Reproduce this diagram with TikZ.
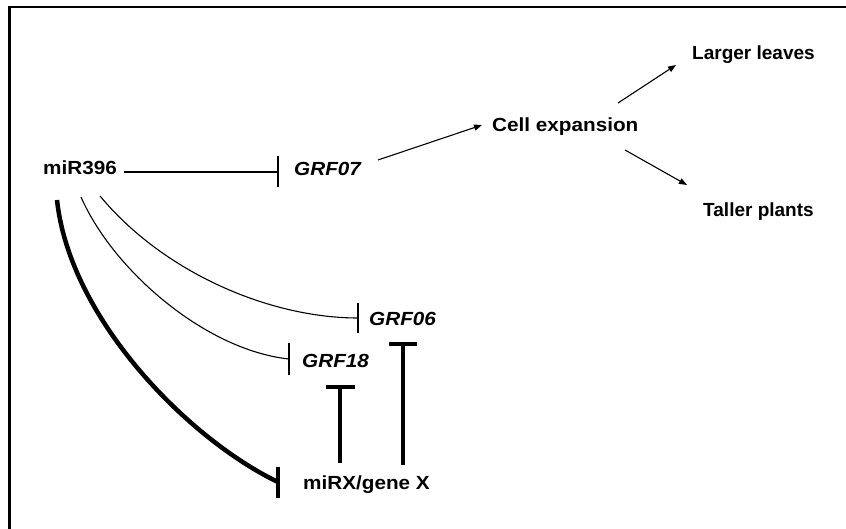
\documentclass[tikz,border=0pt]{standalone}
\usepackage{fontspec}
\setmainfont{Liberation Sans}[FakeStretch=1.09]
\newfontfamily\plainsans{Liberation Sans}
\usetikzlibrary{arrows.meta,calc}
\begin{document}
\begin{tikzpicture}[x=1pt,y=-1pt,
  lbl/.style={anchor=base west,inner sep=0pt,font=\fontsize{19}{21}\selectfont\bfseries},
  lblw/.style={anchor=base west,inner sep=0pt,font=\plainsans\fontsize{19}{21}\selectfont\bfseries},
  gene/.style={anchor=base west,inner sep=0pt,font=\fontsize{19}{21}\selectfont\bfseries\itshape},
  thinln/.style={line width=1.1pt},
  thickln/.style={line width=4.5pt},
  act/.style={thinln,-{Triangle[length=8pt,width=6pt]}},
  frame/.style={line width=2.2pt}
]
\useasboundingbox (0,0) rectangle (846,529);
\draw[frame] (9.5,529) -- (9.5,7) -- (846,7);

% nodes
\node[lbl]  (mir)    at (43,175)  {miR396};
\node[gene] (g07)    at (294,176) {GRF07};
\node[lbl]  (cell)   at (492,132) {Cell expansion};
\node[lblw] (larger) at (692,60)  {Larger leaves};
\node[lblw] (taller) at (703,217) {Taller plants};
\node[gene] (g06)    at (369,326) {GRF06};
\node[gene] (g18)    at (302,367) {GRF18};
\node[lbl]  (mirx)   at (303,489) {miRX/gene X};

% miR396 -| GRF07
\coordinate (e07) at ($(g07.base west)+(-16,-4)$);
\draw[thinln] ($(mir.base east)+(7,-3)$) -- (e07);
\draw[thinln] ($(e07)+(0,-15.5)$) -- ($(e07)+(0,15.5)$);

% miR396 -| GRF06
\coordinate (e06) at ($(g06.base west)+(-11,-8)$);
\draw[thinln] ($(mir.base west)+(57,21)$) .. controls +(64,77) and +(-88,0) .. (e06);
\draw[thinln] ($(e06)+(0,-15)$) -- ($(e06)+(0,15)$);

% miR396 -| GRF18
\coordinate (e18) at ($(g18.base west)+(-13,-8)$);
\draw[thinln] ($(mir.base west)+(38,22)$) .. controls +(32,73) and +(-84,-9) .. (e18);
\draw[thinln] ($(e18)+(0,-16)$) -- ($(e18)+(0,16)$);

% miR396 -| miRX (thick)
\coordinate (ex) at ($(mirx.base west)+(-25,-7)$);
\draw[thickln] ($(mir.base west)+(14,25)$) .. controls +(13,120) and +(-88,-42) .. (ex);
\draw[thickln] ($(ex)+(0,-15.5)$) -- ($(ex)+(0,15.5)$);

% miRX -| GRF18
\coordinate (t18) at ($(g18.base west)+(38,20)$);
\draw[thickln] ($(mirx.base west)+(37,-26)$) -- (t18);
\draw[thickln] ($(t18)+(-14.5,0)$) -- ($(t18)+(14.5,0)$);

% miRX -| GRF06
\coordinate (t06) at ($(g06.base west)+(34,18)$);
\draw[thickln] ($(mirx.base west)+(100,-24)$) -- (t06);
\draw[thickln] ($(t06)+(-14,0)$) -- ($(t06)+(14,0)$);

% activation arrows
\draw[act] ($(g07.base west)+(84,-16)$) -- ($(cell.base west)+(-10,-7)$);
\draw[act] ($(cell.base west)+(126,-29)$) -- ($(larger.base west)+(-16,5)$);
\draw[act] ($(cell.base west)+(133,18)$) -- ($(taller.base west)+(-16,-32)$);
\end{tikzpicture}
\end{document}
